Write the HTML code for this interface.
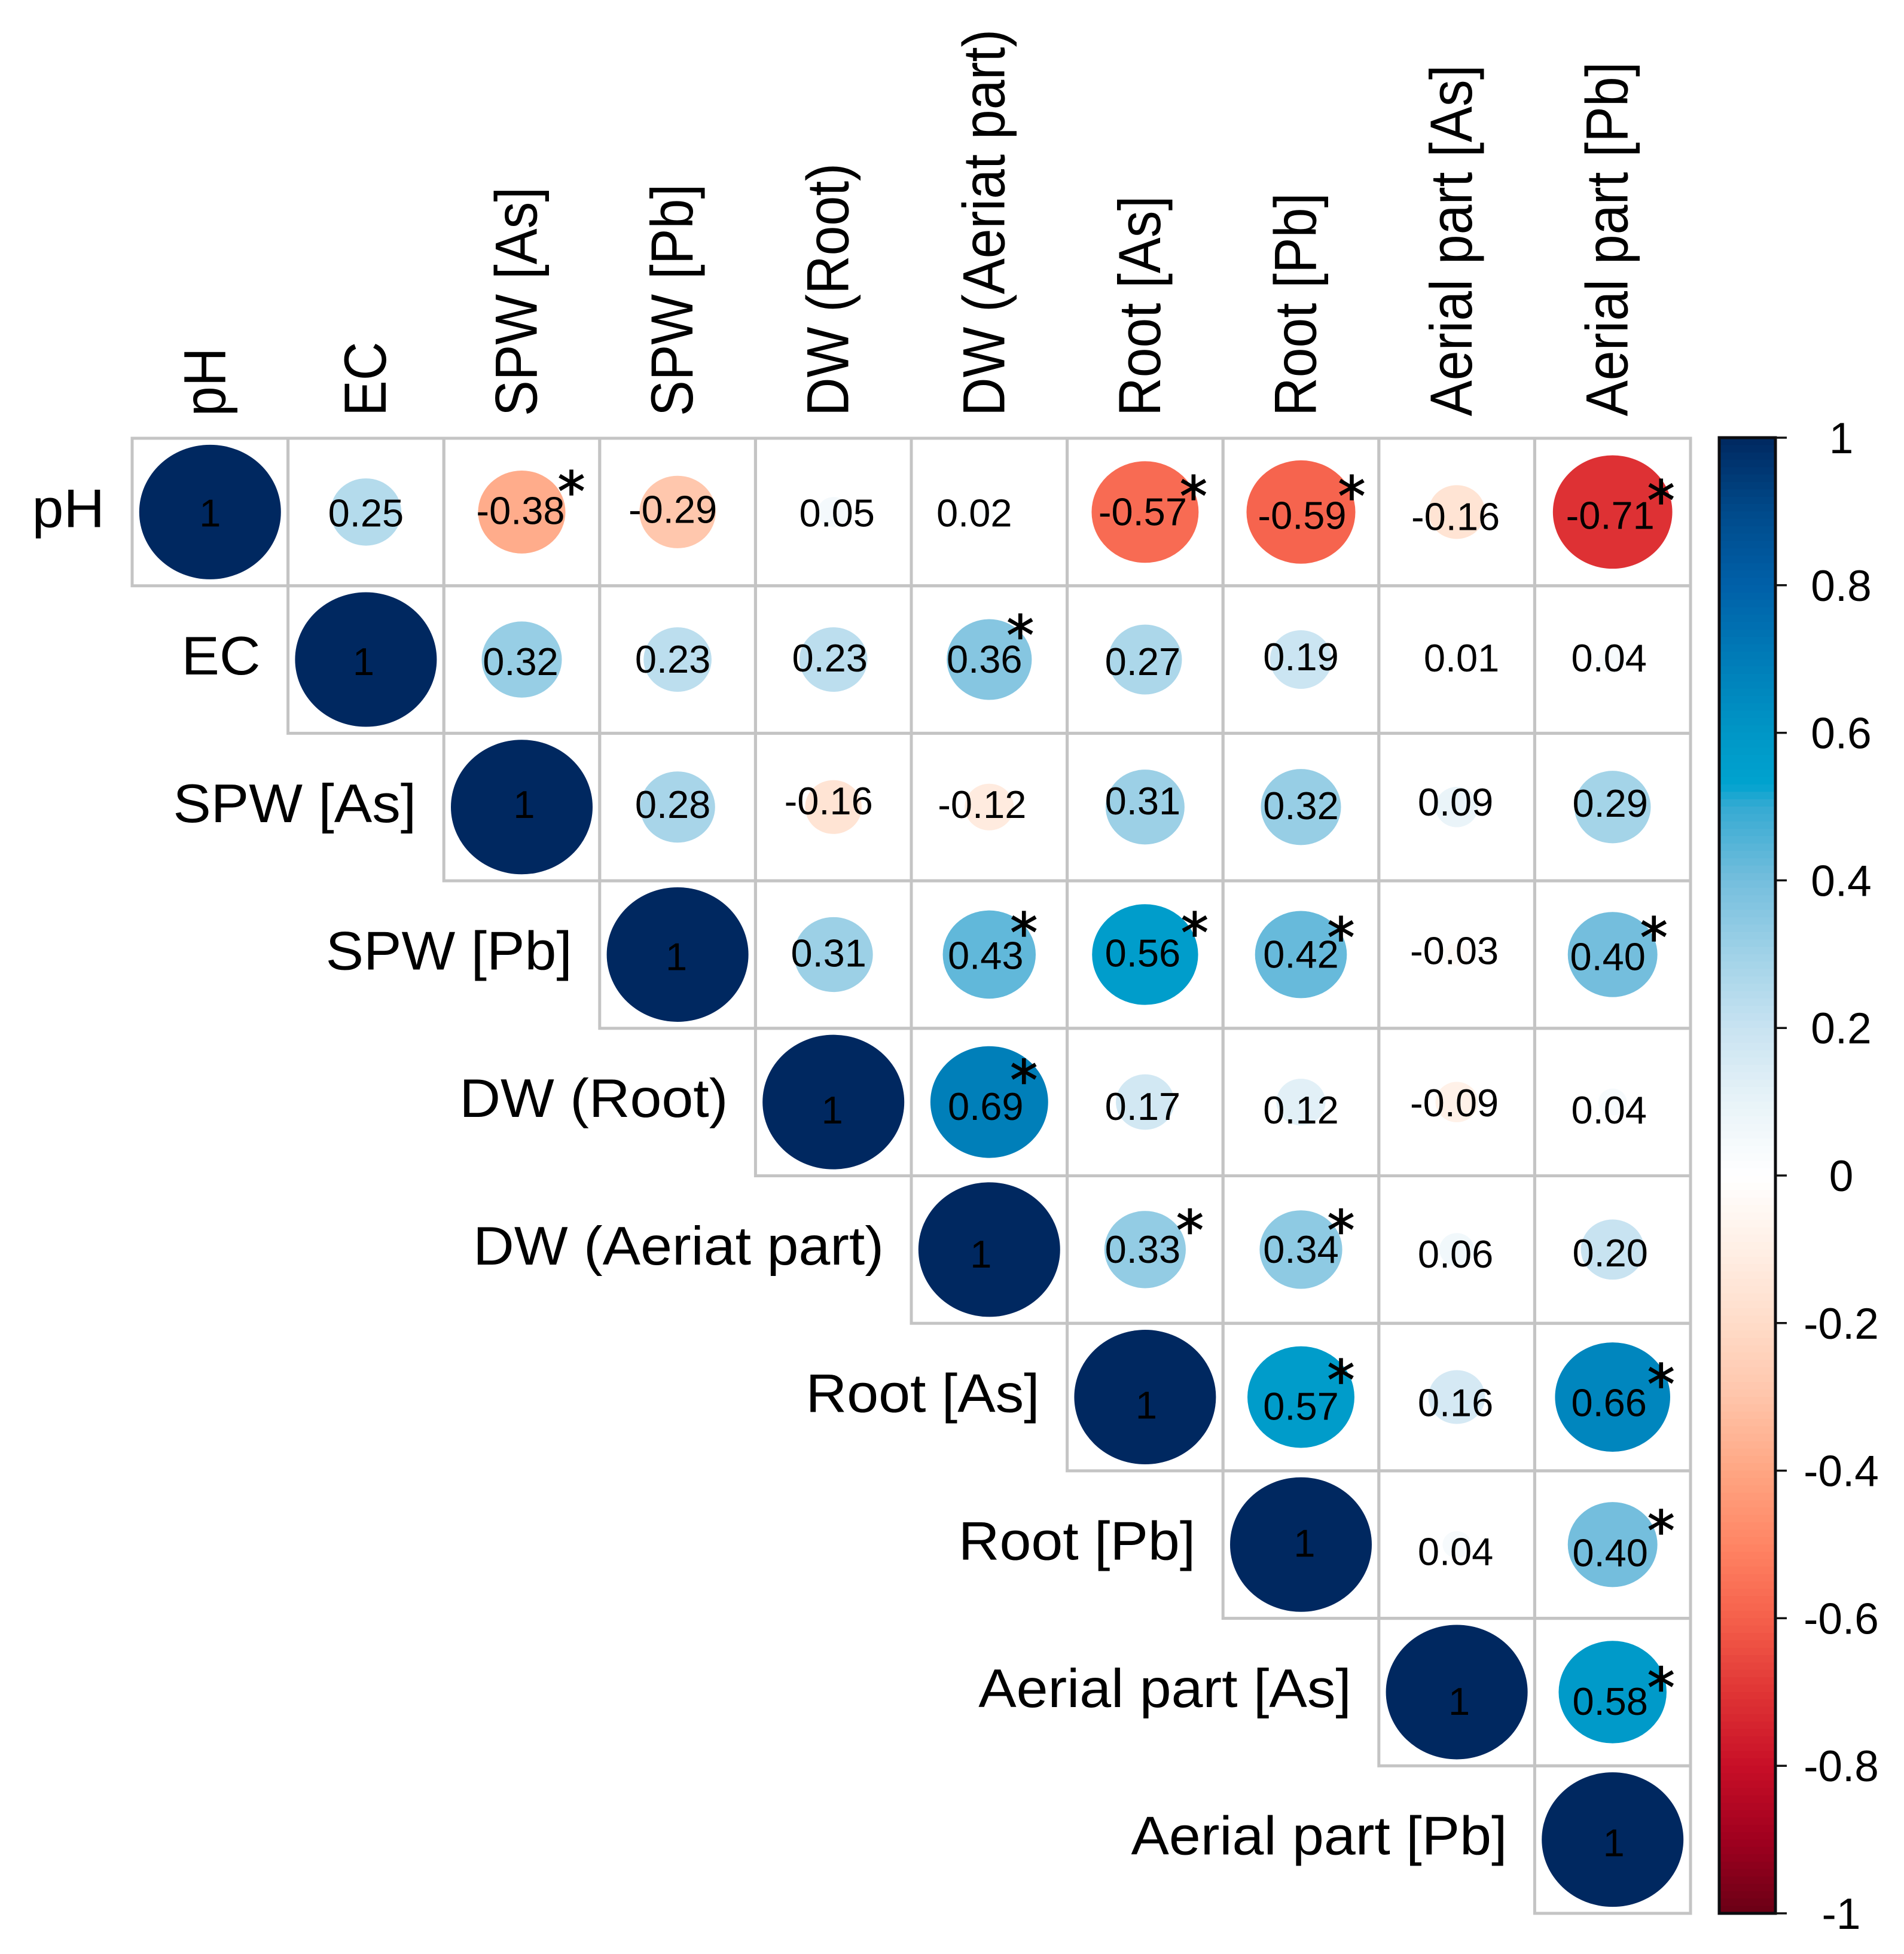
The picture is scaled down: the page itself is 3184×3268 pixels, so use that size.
<!DOCTYPE html>
<html lang="en">
<head>
<meta charset="utf-8">
<title>Correlation matrix</title>
<style>
html,body{margin:0;padding:0;background:#fff;}
svg{display:block;}
text{fill:#000;font-family:"Liberation Sans",sans-serif;}
</style>
</head>
<body>
<svg id="chart" xmlns="http://www.w3.org/2000/svg" width="3184" height="3268" viewBox="0 0 3184 3268">
  <rect x="0" y="0" width="3184" height="3268" fill="#fff"/>
  <g id="grid"></g>
  <g id="marks"></g>
  <g id="values"></g>
  <g id="stars"></g>
  <g id="rowLabels"></g>
  <g id="colLabels"></g>
  <g id="legend"></g>
</svg>
<script>
// ---- Data ----
const variables = ["pH","EC","SPW [As]","SPW [Pb]","DW (Root)","DW (Aeriat part)","Root [As]","Root [Pb]","Aerial part [As]","Aerial part [Pb]"];
// Upper triangle of the correlation matrix; each row starts on the diagonal.
const rowPH       = [1, 0.25, -0.38, -0.29, 0.05, 0.02, -0.57, -0.59, -0.16, -0.71];
const rowEC       = [1, 0.32, 0.23, 0.23, 0.36, 0.27, 0.19, 0.01, 0.04];
const rowSpwAs    = [1, 0.28, -0.16, -0.12, 0.31, 0.32, 0.09, 0.29];
const rowSpwPb    = [1, 0.31, 0.43, 0.56, 0.42, -0.03, 0.40];
const rowDwRoot   = [1, 0.69, 0.17, 0.12, -0.09, 0.04];
const rowDwAerial = [1, 0.33, 0.34, 0.06, 0.20];
const rowRootAs   = [1, 0.57, 0.16, 0.66];
const rowRootPb   = [1, 0.04, 0.40];
const rowAerialAs = [1, 0.58];
const rowAerialPb = [1];
const correlationRows = [rowPH,rowEC,rowSpwAs,rowSpwPb,rowDwRoot,rowDwAerial,rowRootAs,rowRootPb,rowAerialAs,rowAerialPb];
// Significant pairs as "row-column".
const significantPairs = ["0-2","0-6","0-7","0-9","1-5","3-5","3-6","3-7","3-9","4-5","5-6","5-7","6-7","6-9","7-9","8-9"];
const legendTicks = [1,0.8,0.6,0.4,0.2,0,-0.2,-0.4,-0.6,-0.8,-1];

// ---- Layout (not data) ----
const GRID_LEFT = 221, GRID_TOP = 733, CELL_W = 260.6, CELL_H = 246.7;
const MAX_RX = 118.5, MAX_RY = 112.5;
const BAR_LEFT = 2875, BAR_RIGHT = 2969, BAR_TOP = 732, BAR_BOTTOM = 3200, TICK_END = 2988, LEGEND_TEXT_X = 3079;
// Small hand placement offsets of the printed values, per upper-triangle cell.
const labelNudge = [
 [[0,4],[0,4],[-2,0],[-8,-2],[6,4],[-25,4],[-4,2],[2,8],[-2,10],[-4,8]],
 [[-4,6],[-2,6],[-8,2],[-6,0],[-8,2],[-4,6],[0,-2],[8,0],[-6,0]],
 [[4,-2],[-8,-2],[-8,-8],[-12,-2],[-4,-8],[0,0],[-2,-6],[-4,-4]],
 [[-2,6],[-8,0],[-6,4],[-4,0],[0,2],[-4,-4],[-8,6]],
 [[-2,16],[-6,10],[-4,10],[0,16],[-4,4],[-6,16]],
 [[-14,10],[-4,2],[0,2],[-2,10],[-4,8]],
 [[2,16],[0,18],[-2,12],[-6,12]],
 [[6,0],[-2,14],[-4,16]],
 [[4,18],[-4,18]],
 [[2,8]]
];
const starNudge = {"0-2":[83,-48],"0-6":[81,-40],"0-7":[85,-40],"0-9":[81,-33],"1-5":[52,-54],"3-5":[58,-50],"3-6":[83,-50],"3-7":[67,-42],"3-9":[69,-42],"4-5":[58,-50],"5-6":[75,-46],"5-7":[67,-46],"6-7":[67,-42],"6-9":[81,-35],"7-9":[81,-37],"8-9":[81,-21]};
const colLabelShift = {1:8};
// Colour ramp: knot values and their colours.
const rampKnots = [-1,-0.9,-0.8,-0.7,-0.6,-0.5,-0.4,-0.3,-0.2,-0.1,0,0.1,0.2,0.3,0.4,0.5,0.53,0.6,0.7,0.8,0.9,1];
const rampColors = ["#6a0015","#a0001f","#c80f27","#e03535","#f5604b","#ff8564","#ffa683","#ffc5aa","#ffdcc9","#ffefe5","#ffffff","#e8f3f8","#c8e3f1","#a0d2e7","#74bedd","#35aad2","#00a3cf","#0096c6","#007cb8","#0060a8","#004a8a","#002860"];

// ---- Scales ----
function xCell(col){ return GRID_LEFT + col*CELL_W; }
function yCell(row){ return GRID_TOP + row*CELL_H; }
function xCenter(col){ return xCell(col) + CELL_W/2; }
function yCenter(row){ return yCell(row) + CELL_H/2; }
function rxOf(v){ return MAX_RX*Math.sqrt(Math.abs(v)); }
function ryOf(v){ return MAX_RY*Math.sqrt(Math.abs(v)); }
function yLegend(v){ return BAR_TOP + (1-v)/2*(BAR_BOTTOM-BAR_TOP); }
function hex(c){ return [parseInt(c.substr(1,2),16),parseInt(c.substr(3,2),16),parseInt(c.substr(5,2),16)]; }
function colorOf(v){
  const t = Math.max(-1,Math.min(1,v));
  let i = 0;
  while(i < rampKnots.length-2 && t > rampKnots[i+1]){ i++; }
  const f = (t-rampKnots[i])/(rampKnots[i+1]-rampKnots[i]);
  const a = hex(rampColors[i]), b = hex(rampColors[i+1]);
  return "rgb("+a.map(function(x,k){return Math.round(x+(b[k]-x)*f);}).join(",")+")";
}
function fmt(v){ return v===1 ? "1" : v.toFixed(2); }
const NS = "http://www.w3.org/2000/svg";
function make(tag,parentId,attrs,txt){
  const el = document.createElementNS(NS,tag);
  for(const k in attrs){ el.setAttribute(k,attrs[k]); }
  if(txt!==undefined){ el.textContent = txt; }
  document.getElementById(parentId).appendChild(el);
  return el;
}

// ---- Matrix ----
correlationRows.forEach(function(values,r){
  values.forEach(function(v,k){
    const c = r+k;
    const cell = make("rect","grid",{x:xCell(c),y:yCell(r),width:CELL_W,height:CELL_H,fill:"none",stroke:"#c4c4c4","stroke-width":5});
    
    

    const mark = make("ellipse","marks",{cx:xCenter(c),cy:yCenter(r),rx:rxOf(v),ry:ryOf(v),fill:colorOf(v)});
    
    

    const n = labelNudge[r] && labelNudge[r][k] ? labelNudge[r][k] : [0,0];
    const label = make("text","values",{x:xCenter(c)+n[0],y:yCenter(r)+n[1]+20,"text-anchor":"middle","font-size":65},fmt(v));
    
    
  });
});
significantPairs.forEach(function(key){
  const p = key.split("-").map(Number);
  const n = starNudge[key] || [75,-45];
  const star = make("text","stars",{x:xCenter(p[1])+n[0],y:yCenter(p[0])+n[1]+46,"text-anchor":"middle","font-size":92,stroke:"#000","stroke-width":1.5,style:"font-family:'DejaVu Sans',sans-serif"},"*");
  
  
});

// ---- Axis labels ----
variables.forEach(function(name,i){
  const rowText = make("text","rowLabels",{"text-anchor":"end","font-size":91,transform:"translate("+(xCell(i)-46)+","+(yCenter(i)+25)+") scale(1.045,1)"},name);
  
  

  const colText = make("text","colLabels",{"text-anchor":"start","font-size":99,transform:"translate("+(xCenter(i)+25+(colLabelShift[i]||0))+",696) rotate(-90) scale(0.905,1)"},name);
  
  
});

// ---- Legend ----
for(let b=0;b<200;b++){
  const hi = 1-b/100, lo = hi-0.01;
  const band = make("rect","legend",{x:BAR_LEFT,y:yLegend(hi),width:BAR_RIGHT-BAR_LEFT,height:yLegend(lo)-yLegend(hi)+0.6,fill:colorOf((hi+lo)/2)});
  
  
}
const frame = make("rect","legend",{x:BAR_LEFT,y:BAR_TOP,width:BAR_RIGHT-BAR_LEFT,height:BAR_BOTTOM-BAR_TOP,fill:"none",stroke:"#0c0c10","stroke-width":5});


legendTicks.forEach(function(v){
  const tick = make("line","legend",{x1:BAR_RIGHT,x2:TICK_END,y1:yLegend(v),y2:yLegend(v),stroke:"#111","stroke-width":3.5});
  
  

  const tl = make("text","legend",{x:LEGEND_TEXT_X,y:yLegend(v)+26,"text-anchor":"middle","font-size":73},String(v));
  
  
});
</script>
</body>
</html>
